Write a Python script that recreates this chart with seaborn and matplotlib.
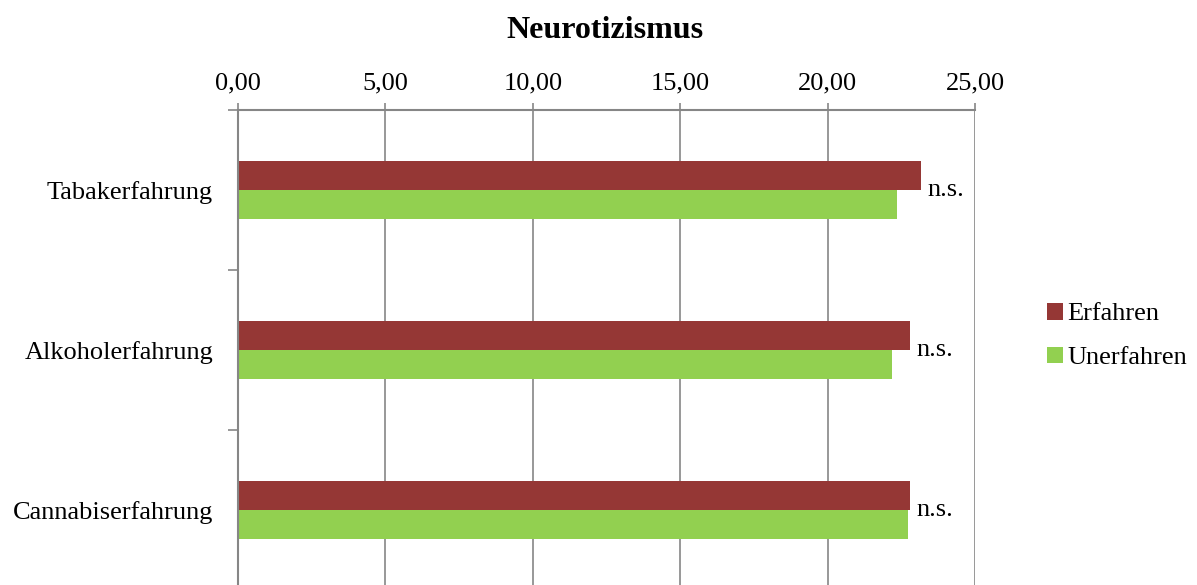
import matplotlib.pyplot as plt
import pandas as pd
import seaborn as sns
from matplotlib.ticker import FuncFormatter, FixedLocator

categories = ["Tabakerfahrung", "Alkoholerfahrung", "Cannabiserfahrung"]
groups = ["Erfahren", "Unerfahren"]
erfahren = [23.17, 22.80, 22.80]
unerfahren = [22.34, 22.20, 22.74]
significance = ["n.s.", "n.s.", "n.s."]
x_ticks = [0, 5, 10, 15, 20, 25]
colors = ["#953735", "#92D050"]
grid_color = "#868686"


def build_frame():
    rows = []
    for cat, e, u in zip(categories, erfahren, unerfahren):
        rows.append({"Kategorie": cat, "Gruppe": groups[0], "Wert": e})
        rows.append({"Kategorie": cat, "Gruppe": groups[1], "Wert": u})
    return pd.DataFrame(rows)


def main():
    sns.set_style("white")
    plt.rcParams["font.family"] = ["Liberation Serif", "DejaVu Serif"]
    plt.rcParams["text.color"] = "black"
    plt.rcParams["xtick.labelcolor"] = "black"
    plt.rcParams["ytick.labelcolor"] = "black"

    df = build_frame()
    fig = plt.figure(figsize=(11.97, 5.85), dpi=100)
    ax = fig.add_axes([238 / 1197, -5 / 585, (975 - 238) / 1197, 480 / 585])

    sns.barplot(
        data=df, y="Kategorie", x="Wert", hue="Gruppe", order=categories,
        hue_order=groups, palette=colors, orient="h", width=0.36,
        saturation=1, ax=ax, legend=True, edgecolor="none",
    )

    ax.set_xlim(0, 25)
    ax.set_ylim(2.5, -0.5)
    ax.set_xlabel("")
    ax.set_ylabel("")

    ax.xaxis.tick_top()
    ax.xaxis.set_major_locator(FixedLocator(x_ticks))
    ax.xaxis.set_major_formatter(FuncFormatter(lambda v, _: f"{v:.2f}".replace(".", ",")))
    ax.tick_params(axis="x", which="major", direction="out", length=5, width=1.2,
                   color=grid_color, labelcolor="black", labelsize=19, pad=6)
    ax.grid(axis="x", color=grid_color, linewidth=1.2)
    ax.set_axisbelow(True)

    ax.yaxis.set_minor_locator(FixedLocator([-0.5, 0.5, 1.5, 2.5]))
    ax.tick_params(axis="y", which="major", length=0, labelsize=19, pad=18,
                   labelcolor="black")
    ax.tick_params(axis="y", which="minor", left=True, length=7, width=1.2,
                   color=grid_color, direction="out")

    for side in ["right", "bottom"]:
        ax.spines[side].set_visible(False)
    for side in ["left", "top"]:
        ax.spines[side].set_color(grid_color)
        ax.spines[side].set_linewidth(1.5)

    for i, (e, label) in enumerate(zip(erfahren, significance)):
        ax.text(e + 0.22, i, label, va="center", ha="left", fontsize=19, color="black")

    handles, labels = ax.get_legend_handles_labels()
    legend = ax.legend(
        handles, labels, loc="center left", bbox_to_anchor=(1034 / 1197, 1 - 336 / 585),
        bbox_transform=fig.transFigure, frameon=False, fontsize=19,
        handlelength=0.6, handleheight=0.6, handletextpad=0.15, labelspacing=0.8,
        borderpad=0,
    )
    for text in legend.get_texts():
        text.set_color("black")

    fig.text(605 / 1197, 1 - 31 / 585, "Neurotizismus", ha="center", va="center",
             fontsize=23, fontweight="bold", color="black")

    fig.savefig("out.png", dpi=100)
    plt.close(fig)


if __name__ == "__main__":
    main()
